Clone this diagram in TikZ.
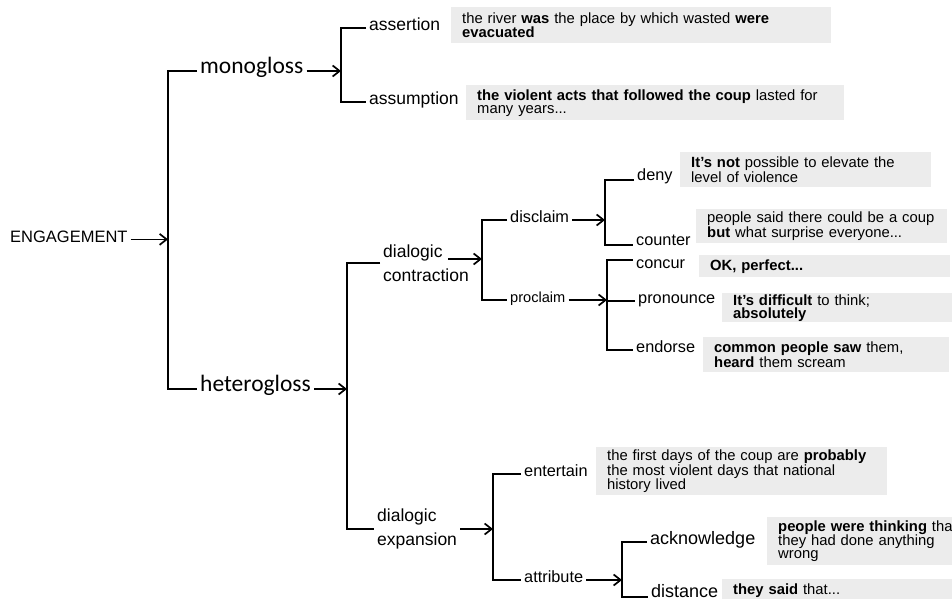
\documentclass[tikz,border=0pt]{standalone}
\usepackage{fontspec}
\setmainfont{Liberation Sans}
\newfontfamily\glossfont{Carlito}
\usetikzlibrary{arrows.meta}
\definecolor{egfill}{RGB}{236,236,236}
\begin{document}
\begin{tikzpicture}[x=1pt,y=-1pt,
  brline/.style={line width=1.7pt},
  arr/.style={brline,-{Straight Barb[length=7pt,width=11pt]}},
  feat/.style={inner xsep=3pt,inner ysep=0pt,anchor=mid west,align=left,font=\fontsize{16.3}{20}\selectfont},
  big/.style={feat,font=\fontsize{17.5}{24}\selectfont},
  gloss/.style={feat,font=\glossfont\fontsize{23.5}{28}\selectfont},
  eg/.style={fill=egfill,anchor=north west,align=left,inner xsep=11pt,inner ysep=0pt,font=\fontsize{14.8}{13}\selectfont}]
\clip (0,0) rectangle (952,599);
\coordinate (brkA) at (168,0);
\coordinate (brkB) at (341,0);
\coordinate (brkC) at (347,0);
\coordinate (brkD) at (482,0);
\coordinate (brkE) at (605,0);
\coordinate (brkF) at (607,0);
\coordinate (brkG) at (493,0);
\coordinate (brkH) at (622,0);
\node[feat,anchor=base west,font=\fontsize{16.5}{20}\selectfont] (eng) at (7,242) {ENGAGEMENT};
\node[gloss] (mono) at (197,71) {monogloss};
\node[gloss] (hetero) at (197,389) {heterogloss};
\node[big] (assert) at (366,28) {assertion};
\node[big] (assume) at (366,102) {assumption};
\node[big,anchor=west] (dcon) at (380,263) {dialogic\\contraction};
\coordinate (dconout) at (448,259);
\node[big,anchor=west] (dexp) at (374,529) {dialogic\\expansion};
\node[feat] (disclaim) at (507,220) {disclaim};
\node[feat,font=\fontsize{14.6}{18}\selectfont] (proclaim) at (507,300) {proclaim};
\node[feat,anchor=base west] (deny) at (634,180) {deny};
\node[feat,anchor=base west] (counter) at (633,245) {counter};
\node[feat,anchor=north west] (concur) at (633,260) {concur};
\node[feat] (pronounce) at (635,301) {pronounce};
\node[feat] (endorse) at (633,350) {endorse};
\node[feat] (entertain) at (521,474) {entertain};
\node[feat] (attribute) at (521,580) {attribute};
\node[feat,font=\fontsize{18}{22}\selectfont] (acknowledge) at (647,542) {acknowledge};
\node[feat,anchor=base west,font=\fontsize{18}{22}\selectfont] (distance) at (648,597) {distance};
\draw[arr] (eng.mid east) -- (eng.mid east -| brkA);
\draw[brline] (mono.mid west) -| (brkA |- hetero.mid west) -- (hetero.mid west);
\draw[arr] (mono.mid east) -- (mono.mid east -| brkB);
\draw[brline] (assert.mid west) -| (brkB |- assume.mid west) -- (assume.mid west);
\draw[arr] (hetero.mid east) -- (hetero.mid east -| brkC);
\draw[brline] (dcon.west) -| (brkC |- dexp.west) -- (dexp.west);
\draw[arr] (dconout) -- (dconout -| brkD);
\draw[brline] (disclaim.mid west) -| (brkD |- proclaim.mid west) -- (proclaim.mid west);
\draw[arr] (disclaim.mid east) -- (disclaim.mid east -| brkE);
\draw[brline] (deny.base west) -| (brkE |- counter.base west) -- (counter.base west);
\draw[arr] (proclaim.mid east) -- (proclaim.mid east -| brkF);
\draw[brline] (concur.north west) -| (brkF |- endorse.mid west) -- (endorse.mid west);
\draw[brline] (brkF |- pronounce.mid west) -- (pronounce.mid west);
\draw[arr] (dexp.east) -- (dexp.east -| brkG);
\draw[brline] (entertain.mid west) -| (brkG |- attribute.mid west) -- (attribute.mid west);
\draw[arr] (attribute.mid east) -- (attribute.mid east -| brkH);
\draw[brline] (acknowledge.mid west) -| (brkH |- distance.base west) -- (distance.base west);
\node[eg,text width=358pt,minimum height=36pt] (egassert) at (451,7) {the river \textbf{was} the place by which wasted \textbf{were}\\\textbf{evacuated}};
\node[eg,text width=356pt,minimum height=35pt] (egassume) at (466,85) {\textbf{the violent acts that followed the coup} lasted for\\many years...};
\node[eg,text width=229pt,minimum height=35pt] (egdeny) at (680,152) {\textbf{It's not} possible to elevate the\\level of violence};
\node[eg,text width=229pt,minimum height=34pt] (egcounter) at (696,209) {people said there could be a coup\\\textbf{but} what surprise everyone...};
\node[eg,text width=229pt,minimum height=22pt] (egconcur) at (699,255) {\textbf{OK, perfect...}};
\node[eg,text width=218pt,minimum height=29pt] (egpronounce) at (722,293) {\textbf{It's difficult} to think;\\\textbf{absolutely}};
\node[eg,text width=224pt,minimum height=35pt] (egendorse) at (703,337) {\textbf{common people saw} them,\\\textbf{heard} them scream};
\node[eg,text width=269pt,minimum height=48pt] (egentertain) at (596,447) {the first days of the coup are \textbf{probably}\\the most violent days that national\\history lived};
\node[eg,text width=218pt,minimum height=48pt] (egacknowledge) at (767,517) {\textbf{people were thinking} that\\they had done anything\\wrong};
\node[eg,text width=218pt,minimum height=22pt] (egdistance) at (722,579) {\textbf{they said} that...};
\end{tikzpicture}
\end{document}
